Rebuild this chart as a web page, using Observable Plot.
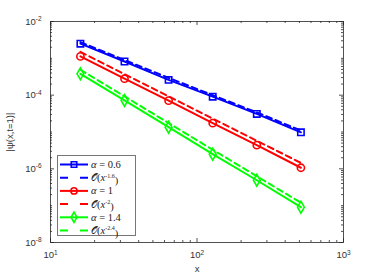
<!DOCTYPE html>
<html><head><meta charset="utf-8">
<script src="https://cdn.jsdelivr.net/npm/d3@7"></script>
<script src="https://cdn.jsdelivr.net/npm/@observablehq/plot@0.6"></script>
<style>
body{margin:0;background:#fff;}
#wrap{position:relative;width:382px;height:273px;}
#legend{position:absolute;left:0;top:0;}
</style>
</head><body>
<div id="wrap"></div>
<script>
const xs = [16, 32, 64, 128, 256, 512];
const alpha06 = [2.5e-3, 8.2e-4, 2.6e-4, 9.1e-5, 3.1e-5, 9.8e-6];
const ref16 = [2.75e-3, 9.0e-4, 2.95e-4, 1.0e-4, 3.4e-5, 1.1e-5];
const alpha10 = [1.13e-3, 2.8e-4, 7.1e-5, 1.74e-5, 4.4e-6, 1.07e-6];
const ref20 = [1.5e-3, 3.7e-4, 9.3e-5, 2.3e-5, 5.8e-6, 1.45e-6];
const alpha14 = [3.8e-4, 7.2e-5, 1.35e-5, 2.5e-6, 4.9e-7, 9.1e-8];
const ref24 = [4.9e-4, 9.3e-5, 1.75e-5, 3.3e-6, 6.3e-7, 1.2e-7];
const xMajor = [10, 100, 1000];
const yMajor = [1e-8, 1e-6, 1e-4, 1e-2];
const xExp = ["1", "2", "3"];
const yExp = ["-8", "-6", "-4", "-2"];
const legendLabels = [["0.6", null], [null, "-1.6"], ["1", null], [null, "-2"], ["1.4", null], [null, "-2.4"]];

const series = [
  {name: "a06", vals: alpha06, color: "#0000ff", dash: null, marker: "square"},
  {name: "r16", vals: ref16, color: "#0000ff", dash: "6,4", marker: null},
  {name: "a10", vals: alpha10, color: "#ff0000", dash: null, marker: "circle"},
  {name: "r20", vals: ref20, color: "#ff0000", dash: "6,4", marker: null},
  {name: "a14", vals: alpha14, color: "#00ff00", dash: null, marker: "diamond"},
  {name: "r24", vals: ref24, color: "#00ff00", dash: "6,4", marker: null}
];
const rows = series.flatMap(s => s.vals.map((v, i) => ({s: s.name, x: xs[i], y: v})));

const xMinor = [];
for (let d = 10; d < 1000; d *= 10) for (let k = 2; k <= 9; k++) xMinor.push(d * k);
const yMinor = [];
for (let e = -8; e < -2; e++) for (let k = 2; k <= 9; k++) yMinor.push(k * Math.pow(10, e));
const yOdd = [1e-7, 1e-5, 1e-3];

const W = 382, H = 273, mL = 50, mR = 39, mT = 21, mB = 31;
const fw = W - mL - mR, fh = H - mT - mB;
const axisColor = "#262626";
const tk = {stroke: axisColor, strokeWidth: 0.8};
const marks = [
  Plot.tickX(xMinor, {x: d => d, insetTop: fh - 2, ...tk}),
  Plot.tickX(xMinor, {x: d => d, insetBottom: fh - 2, ...tk}),
  Plot.tickY(yMinor.concat(yOdd), {y: d => d, insetRight: fw - 2, ...tk}),
  Plot.tickY(yMinor.concat(yOdd), {y: d => d, insetLeft: fw - 2, ...tk}),
  Plot.tickX(xMajor, {x: d => d, insetTop: fh - 4, ...tk}),
  Plot.tickX(xMajor, {x: d => d, insetBottom: fh - 4, ...tk}),
  Plot.tickY(yMajor, {y: d => d, insetRight: fw - 4, ...tk}),
  Plot.tickY(yMajor, {y: d => d, insetLeft: fw - 4, ...tk}),
  Plot.frame({stroke: axisColor, strokeOpacity: 0.8}),
  Plot.axisX(xMajor, {anchor: "bottom", tickSize: 0, tickPadding: 9, tickFormat: () => "10", fill: "#333", fontSize: 9.5,
    label: "x", labelAnchor: "center", labelArrow: "none", labelOffset: 29}),
  Plot.axisY(yMajor, {anchor: "left", tickSize: 0, tickPadding: 9, tickFormat: () => "10", fill: "#333", fontSize: 9.5,
    label: "|ψ(x,t=1)|", labelAnchor: "center", labelArrow: "none", labelOffset: 44}),
];
for (const s of series) {
  const d = rows.filter(r => r.s === s.name);
  marks.push(Plot.line(d, {x: "x", y: "y", stroke: s.color, strokeWidth: 2, strokeDasharray: s.dash}));
  if (s.marker) marks.push(Plot.dot(d, {x: "x", y: "y", stroke: s.color, symbol: s.marker, r: 3.6, strokeWidth: 1.6, fill: "none"}));
}

const chart = Plot.plot({
  width: W, height: H,
  marginLeft: mL, marginRight: mR, marginTop: mT, marginBottom: mB,
  style: {fontFamily: "Liberation Sans, Arial, sans-serif", background: "#fff"},
  x: {type: "log", domain: [10, 1000]},
  y: {type: "log", domain: [1e-8, 1e-2]},
  marks
});
document.getElementById("wrap").appendChild(chart);

const svg = d3.select(chart);
svg.selectAll("g[aria-label='x-axis tick label'] text").each(function(d, i) {
  const t = d3.select(this);
  t.text(null);
  t.append("tspan").text("10");
  t.append("tspan").attr("dy", "-0.55em").attr("font-size", "6.5px").text(xExp[i]);
});
svg.selectAll("g[aria-label='y-axis tick label'] text").each(function(d, i) {
  const t = d3.select(this);
  t.text(null);
  t.append("tspan").text("10");
  t.append("tspan").attr("dy", "-0.55em").attr("font-size", "6.5px").text(yExp[i]);
});
svg.selectAll("g[aria-label='x-axis label'] text, g[aria-label='y-axis label'] text").attr("fill", "#333").attr("font-size", 9.5);

// legend overlay
const lg = d3.select("#wrap").append("svg").attr("id", "legend").attr("width", W).attr("height", H);
lg.append("rect").attr("x", 57.5).attr("y", 155.5).attr("width", 78).attr("height", 80).attr("fill", "#fff").attr("stroke", "#777").attr("stroke-width", 1);
const sym = {square: d3.symbolSquare, circle: d3.symbolCircle, diamond: d3.symbolDiamond};
series.forEach((s, i) => {
  const yy = 164.5 + i * 13.2;
  lg.append("line").attr("x1", 60).attr("x2", 88).attr("y1", yy).attr("y2", yy).attr("stroke", s.color).attr("stroke-width", 2).attr("stroke-dasharray", s.dash ? "8,12" : null);
  if (s.marker) lg.append("path").attr("d", d3.symbol(sym[s.marker], 30)()).attr("transform", `translate(74,${yy})`).attr("fill", "none").attr("stroke", s.color).attr("stroke-width", 1.6);
  const t = lg.append("text").attr("x", 91).attr("y", yy + 3.5).attr("font-family", "Liberation Serif, DejaVu Serif, serif").attr("font-size", 10.5).attr("fill", "#222");
  const [val, exp] = legendLabels[i];
  if (exp) {
    t.append("tspan").attr("font-family", "DejaVu Serif, serif").attr("font-size", 9.5).text("𝒪");
    t.append("tspan").text("(");
    t.append("tspan").attr("font-style", "italic").text("x");
    t.append("tspan").attr("dy", "-0.6em").attr("font-size", "6px").text(exp);
    t.append("tspan").attr("dy", "0.6em").text(")");
  } else {
    t.append("tspan").attr("font-style", "italic").text("α");
    t.append("tspan").text(" = " + val);
  }
});
</script>
</body></html>
